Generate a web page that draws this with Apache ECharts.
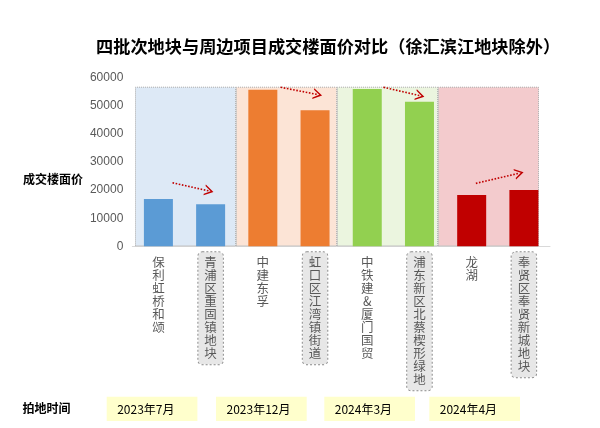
<!DOCTYPE html>
<html>
<head>
<meta charset="utf-8">
<script src="https://cdn.jsdelivr.net/npm/echarts@6/dist/echarts.min.js"></script>
<style>html,body{margin:0;padding:0;background:#fff;}#c{width:600px;height:428px;}</style>
</head>
<body>
<div id="c"></div>
<script>
const titleText = '四批次地块与周边项目成交楼面价对比（徐汇滨江地块除外）';
const categories = ['保利虹桥和颂','青浦区重固镇地块','中建东孚','虹口区江湾镇街道','中铁建&厦门国贸','浦东新区北蔡楔形绿地','龙湖','奉贤区奉贤新城地块'];
const boxedCats = [false, true, false, true, false, true, false, true];
const prices = [16800, 15000, 55700, 48400, 56000, 51400, 18300, 20000];
const groupOfBar = [0, 0, 1, 1, 2, 2, 3, 3];
const groups = ['2023年7月', '2023年12月', '2024年3月', '2024年4月'];
const bandValues = [56800, 56800, 56800, 56800];
const barColors = ['#5b9bd5', '#ed7d31', '#92d050', '#c00000'];
const bandColors = ['#dde9f6', '#fce4d6', '#ebf5df', '#f3cbcd'];
const yTicks = [0, 10000, 20000, 30000, 40000, 50000, 60000];
// arrows: [x1, y1, x2, y2] in (category-position, value) units
const arrows = [
  [0.77, 22600, 1.47, 19700],
  [2.84, 56600, 3.55, 54000],
  [4.81, 56600, 5.51, 53600],
  [6.58, 22400, 7.41, 26000]
];

const chart = echarts.init(document.getElementById('c'));
const CJK = '"Noto Sans CJK SC", "Noto Sans", sans-serif';
const gridTop = 77.7, gridBottom = 181.7;

const dateBoxX = [106.7, 216, 324.3, 429.3];
const graphics = [
  {type:'text', left: 23, top: 173, style:{text:'成交楼面价', font:'bold 12px ' + CJK, fill:'#000'}},
  {type:'text', left: 22.5, top: 402, style:{text:'拍地时间', font:'bold 12px ' + CJK, fill:'#000'}}
];
groups.forEach((g, i) => {
  graphics.push({type:'rect', shape:{x: dateBoxX[i], y: 396.7, width: 90.7, height: 24.3}, style:{fill:'#ffffcc'}, z: 0});
  graphics.push({type:'text', x: dateBoxX[i] + 10.5, y: 409, style:{text: g, font:'12px ' + CJK, fill:'#000', textVerticalAlign:'middle'}, z: 1});
});

chart.setOption({
  animation: false,
  title: {
    text: titleText, left: 91, top: 33,
    textStyle: {fontSize: 17.2, fontWeight: 'bold', color: '#000', fontFamily: CJK}
  },
  grid: [
    {left: 132.3, right: 50, top: gridTop, bottom: gridBottom},
    {left: 135, right: 61, top: gridTop, bottom: gridBottom}
  ],
  xAxis: [
    {
      type: 'category', gridIndex: 0,
      data: categories.map((c, i) => boxedCats[i] ? {
        value: c,
        textStyle: {backgroundColor: '#e7e7e7', borderColor: '#8c8c8c', borderWidth: 1, borderType: 'dotted', borderRadius: 4}
      } : c),
      axisLine: {show: true, lineStyle: {color: '#d9d9d9', width: 1}},
      axisTick: {show: false},
      axisLabel: {
        interval: 0, margin: 6, color: '#595959', fontSize: 12.5, lineHeight: 13,
        fontFamily: CJK, verticalAlign: 'top', padding: [3, 6, 5, 6],
        formatter: v => v.split('').join('\n')
      }
    },
    {type: 'value', gridIndex: 0, min: 0, max: 8, show: false},
    {type: 'category', gridIndex: 1, data: groups, show: false}
  ],
  yAxis: [
    {
      type: 'value', gridIndex: 0, min: yTicks[0], max: yTicks[yTicks.length - 1], interval: 10000,
      axisLine: {show: false}, axisTick: {show: false}, splitLine: {show: false},
      axisLabel: {color: '#595959', fontSize: 12, margin: 9, fontFamily: '"Liberation Sans", Arial, sans-serif',
        formatter: v => String(v)}
    },
    {type: 'value', gridIndex: 1, min: yTicks[0], max: yTicks[yTicks.length - 1], show: false}
  ],
  series: [
    {
      type: 'bar', xAxisIndex: 2, yAxisIndex: 1, barWidth: '100%', z: 1, silent: true,
      data: bandValues.map((v, i) => ({value: v, itemStyle: {color: bandColors[i]}})),
      itemStyle: {borderColor: '#a6a6a6', borderWidth: 1, borderType: 'dotted'}
    },
    {
      type: 'bar', xAxisIndex: 0, yAxisIndex: 0, barWidth: 29, z: 3,
      data: prices.map((v, i) => ({value: v, itemStyle: {color: barColors[groupOfBar[i]]}}))
    },
    {
      type: 'line', xAxisIndex: 1, yAxisIndex: 0, data: [], z: 5,
      markLine: {
        silent: true, animation: false,
        symbol: ['none', 'path://M0,10 L5,0 L10,10 L8.6,10 L5,3.2 L1.4,10 Z'],
        symbolSize: [11, 9],
        label: {show: false},
        lineStyle: {color: '#c00000', type: 'dotted', width: 1.6},
        data: arrows.map(a => [{coord: [a[0], a[1]]}, {coord: [a[2], a[3]]}])
      }
    }
  ],
  graphic: graphics
});
</script>
</body>
</html>
